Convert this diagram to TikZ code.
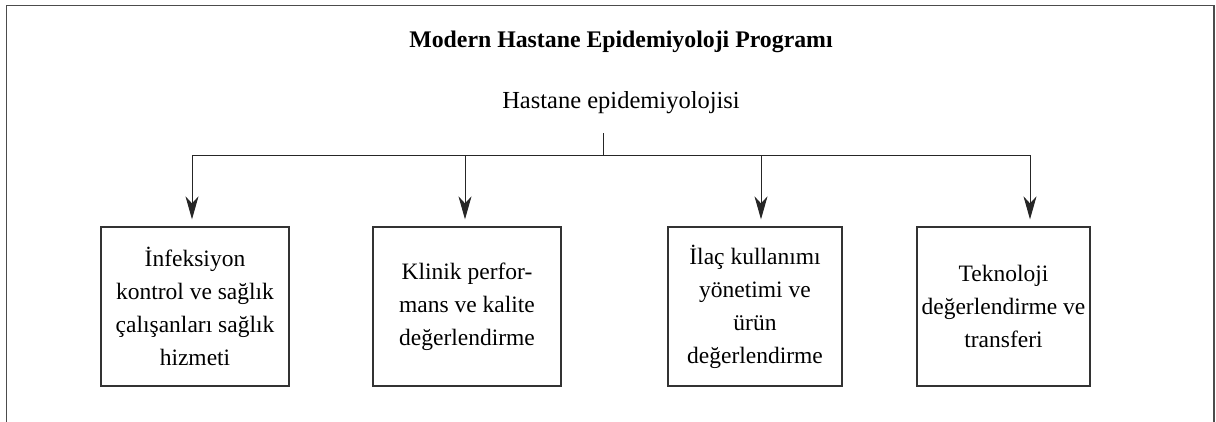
\documentclass[tikz,border=0pt]{standalone}
\usepackage{fontspec}
\setmainfont{Liberation Serif}
\usetikzlibrary{arrows.meta}
\begin{document}
\begin{tikzpicture}[x=1pt,y=-1pt,
  frameline/.style={draw=black!70,line width=1.8pt},
  boxnode/.style={draw=black!80,line width=1.3pt,align=center,inner sep=0pt,
    font=\fontsize{23.5}{33}\selectfont},
  arr/.style={draw=black!85,line width=1pt,-{Stealth[length=23pt,width=13pt,inset=7pt]},shorten >=7pt},
  busline/.style={draw=black!85,line width=1pt}]
\useasboundingbox (0,0) rectangle (1216,421);
\draw[frameline] (6.5,425) -- (6.5,5.5) -- (1214,5.5) -- (1214,425);
\node[font=\bfseries\fontsize{23.8}{28}\selectfont] (title) at (621,42) {Modern Hastane Epidemiyoloji Programı};
\node[font=\fontsize{24.5}{28}\selectfont] (sub) at (621,103) {Hastane epidemiyolojisi};
\node[boxnode,minimum width=188pt,minimum height=159pt] (n1) at (195,306.5)
  {İnfeksiyon\\kontrol ve sağlık\\çalışanları sağlık\\hizmeti};
\node[boxnode,minimum width=188pt,minimum height=159pt] (n2) at (467,306.5)
  {Klinik perfor-\\mans ve kalite\\değerlendirme};
\node[boxnode,minimum width=174pt,minimum height=159pt] (n3) at (755,306.5)
  {İlaç kullanımı\\yönetimi ve\\ürün\\değerlendirme};
\node[boxnode,minimum width=173pt,minimum height=159pt] (n4) at (1003.5,306.5)
  {Teknoloji\\değerlendirme ve\\transferi};
\coordinate (s0) at (603,133);
\coordinate (j) at (603,155);
\coordinate (b1) at (192,155);
\coordinate (b2) at (465,155);
\coordinate (b3) at (761,155);
\coordinate (b4) at (1030,155);
\draw[busline] (s0) -- (j);
\draw[busline] (b1) -- (b4);
\draw[arr] (b1) -- (b1 |- n1.north);
\draw[arr] (b2) -- (b2 |- n2.north);
\draw[arr] (b3) -- (b3 |- n3.north);
\draw[arr] (b4) -- (b4 |- n4.north);
\end{tikzpicture}
\end{document}
